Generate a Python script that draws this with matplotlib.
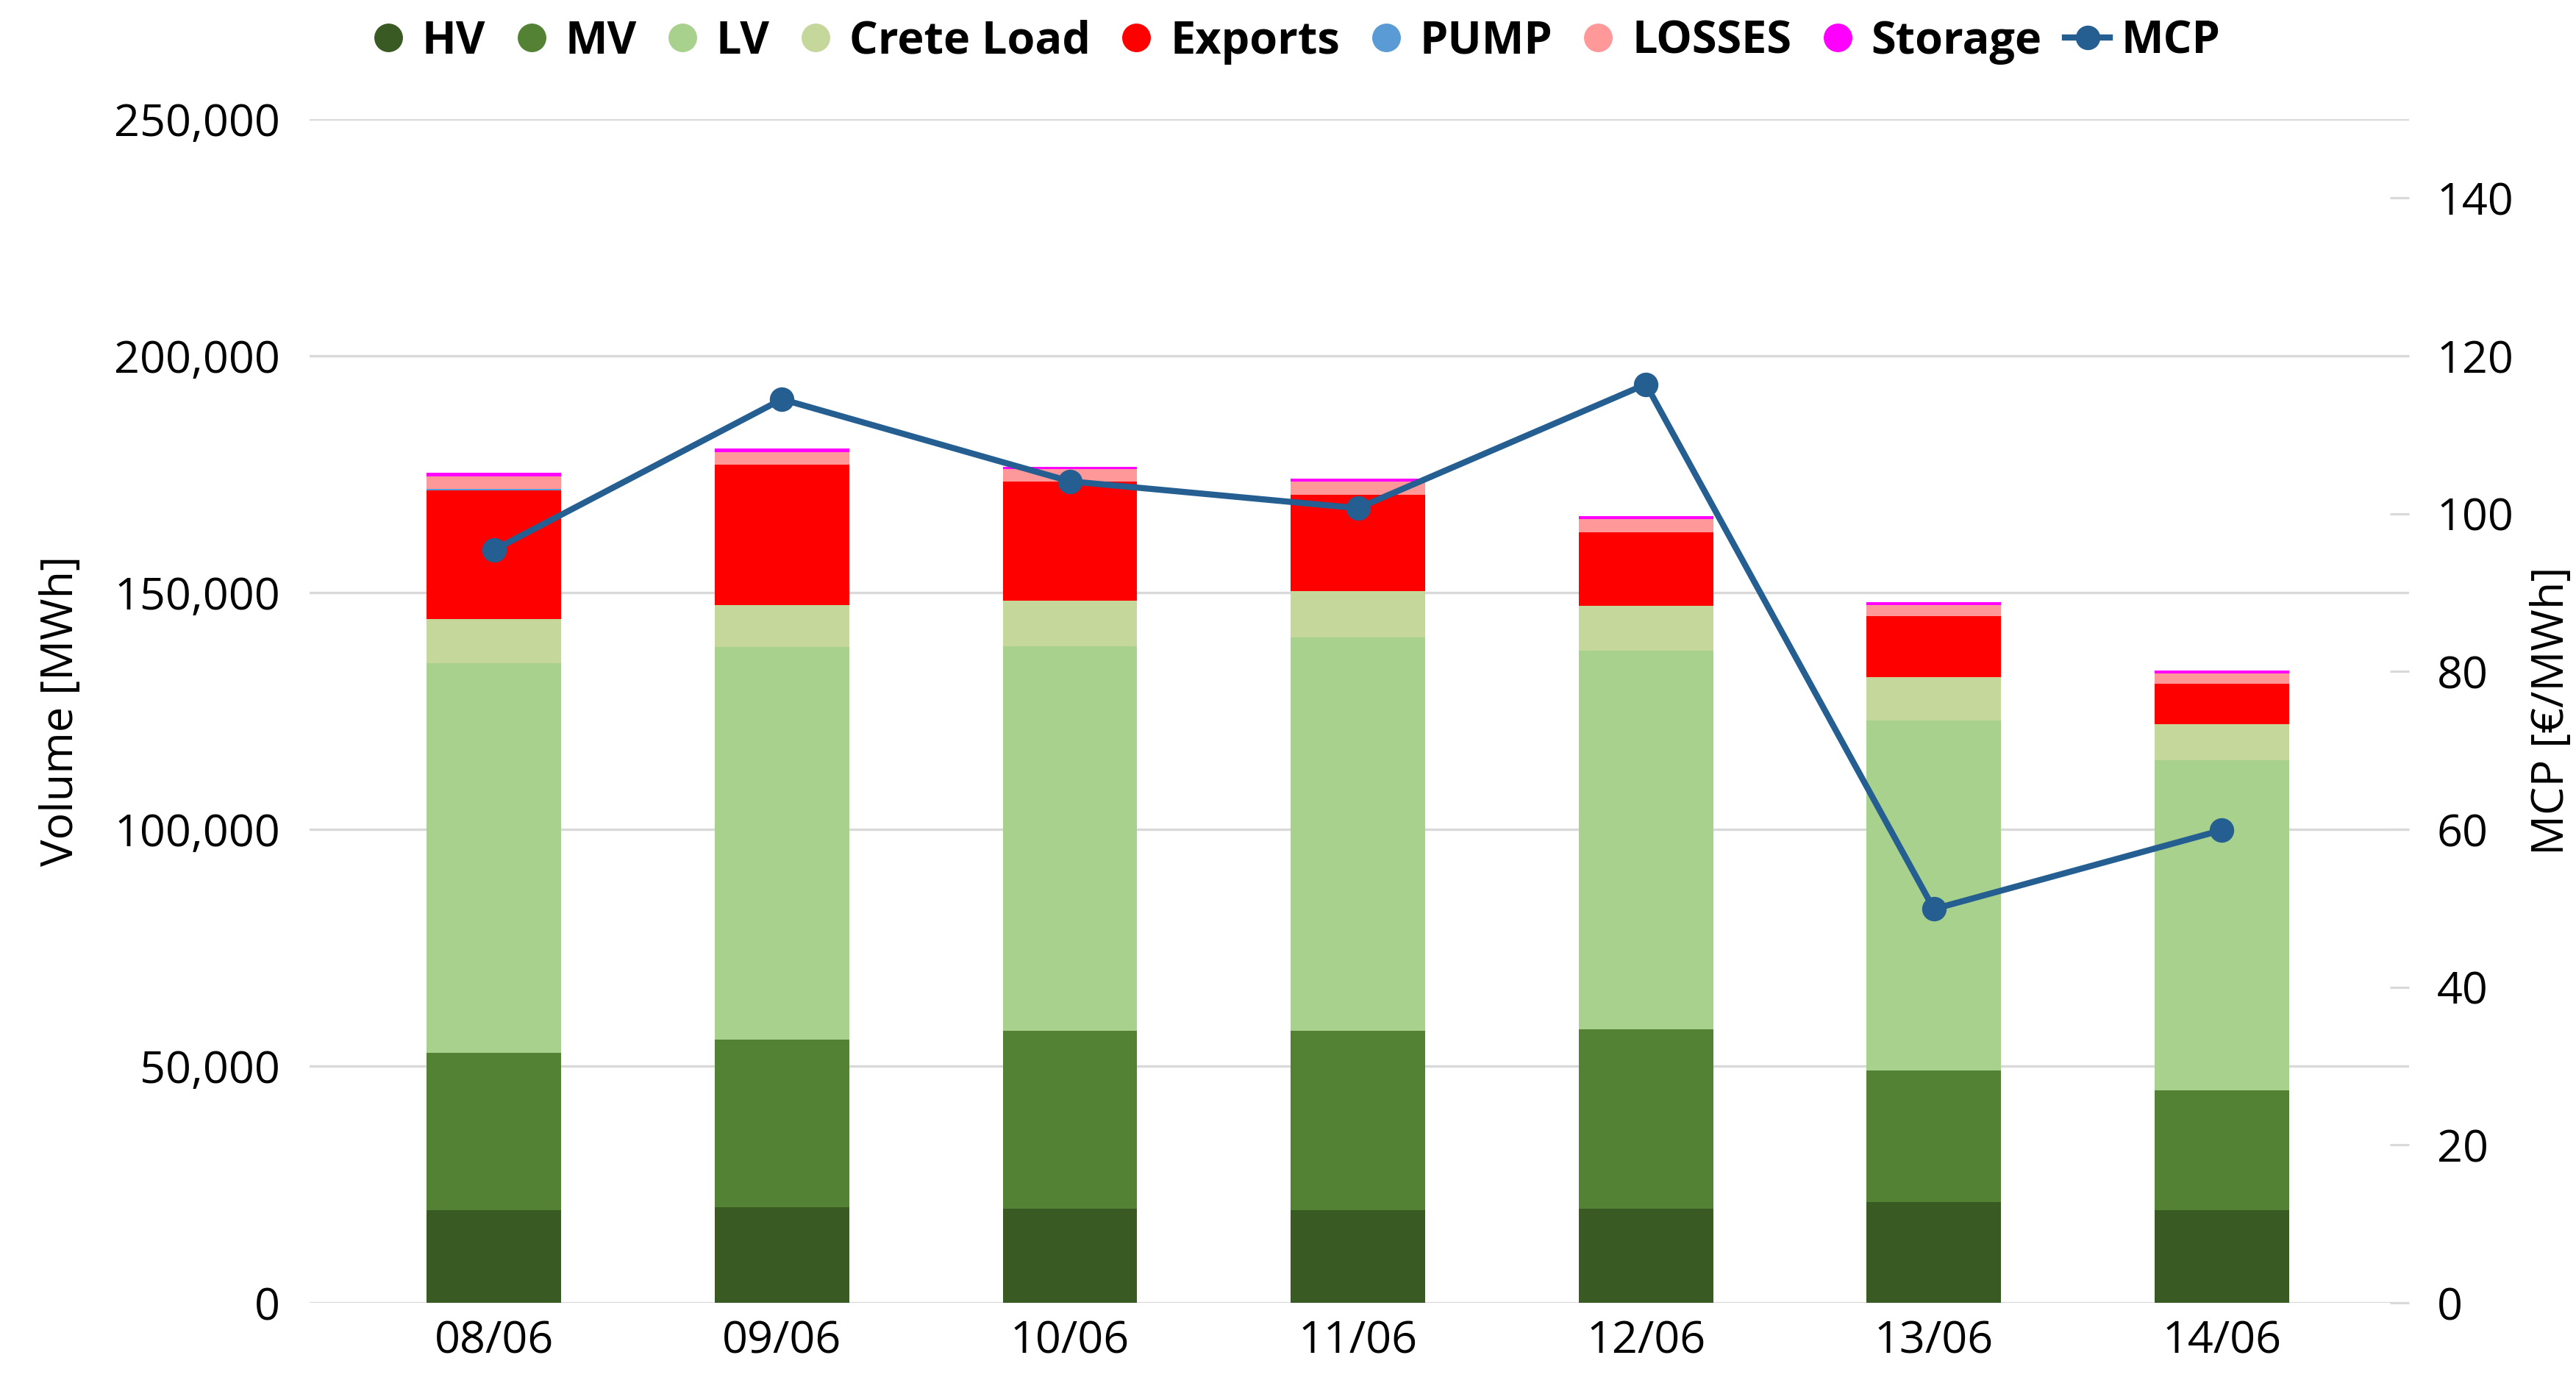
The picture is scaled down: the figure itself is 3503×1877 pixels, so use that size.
import matplotlib
matplotlib.use("Agg")
import matplotlib.pyplot as plt
from matplotlib.lines import Line2D
from matplotlib.ticker import FuncFormatter
import numpy as np

plt.rcParams['font.family'] = ['Open Sans', 'DejaVu Sans']

dates = ["08/06", "09/06", "10/06", "11/06", "12/06", "13/06", "14/06"]
hv = [19500, 20260, 19950, 19640, 19950, 21350, 19640]
mv = [33370, 35410, 37470, 37780, 37780, 27700, 25310]
lv = [82220, 82910, 81320, 83180, 80060, 73900, 69720]
crete = [9250, 8850, 9620, 9730, 9480, 9270, 7610]
exports = [27210, 29570, 25150, 20340, 15530, 12890, 8540]
pump = [420, 0, 0, 0, 0, 0, 0]
losses = [2640, 2640, 2640, 2800, 2790, 2320, 2170]
storage = [730, 780, 450, 620, 620, 620, 620]
mcp = [95.4, 114.5, 104.1, 100.7, 116.4, 49.9, 59.9]

series_names = ["HV", "MV", "LV", "Crete Load", "Exports", "PUMP", "LOSSES", "Storage"]
series_vals = [hv, mv, lv, crete, exports, pump, losses, storage]
colors = ["#3A5A23", "#548235", "#A9D18E", "#C5D79B", "#FF0000", "#5B9BD5", "#FF9999", "#FF00FF"]
mcp_color = "#255E91"

fig = plt.figure(figsize=(35.03, 18.77), dpi=100)
ax = fig.add_axes([0.1202, 0.0559, 0.8150, 0.8578])
ax2 = ax.twinx()

x = np.arange(len(dates))
bottom = np.zeros(len(dates))
for name, vals, c in zip(series_names, series_vals, colors):
    v = np.array(vals, dtype=float)
    ax.bar(x, v, width=0.467, bottom=bottom, color=c, linewidth=0, zorder=2)
    bottom += v

ax2.plot(x, mcp, color=mcp_color, lw=6, marker='o', markersize=23, zorder=5)

ax.set_xlim(-0.64, 6.65)
ax.set_ylim(0, 250000)
ax2.set_ylim(0, 150)
ax.set_yticks(np.arange(0, 250001, 50000))
ax2.set_yticks(np.arange(0, 141, 20))
ax.yaxis.set_major_formatter(FuncFormatter(lambda v, p: f"{int(v):,}"))
ax.set_xticks(x)
ax.set_xticklabels(dates)

ax.grid(axis='y', color='#D9D9D9', lw=2.4, zorder=0)
ax.set_axisbelow(True)
for a in (ax, ax2):
    for s in a.spines.values():
        s.set_visible(False)

ax.tick_params(axis='y', length=0, pad=29, labelsize=44, labelcolor='black')
ax.tick_params(axis='x', length=0, pad=16, labelsize=44, labelcolor='black')
ax2.tick_params(axis='y', direction='in', length=19, width=2.2, color='#D9D9D9',
                pad=27, labelsize=44, labelcolor='black')

fig.text(0.0237, 0.0559 + 0.8578 / 2, "Volume [MWh]", rotation=90,
         ha='center', va='center', fontsize=44)
fig.text(0.9905, 0.0559 + 0.8578 / 2, "MCP [€/MWh]", rotation=90,
         ha='center', va='center', fontsize=44)

handles = [Line2D([], [], ls='none', marker='o', markersize=27, color=c) for c in colors]
handles.append(Line2D([], [], color=mcp_color, lw=6, marker='o', markersize=23))
labels = series_names + ["MCP"]
fig.legend(handles, labels, loc='center', bbox_to_anchor=(0.502, 0.9695), ncol=9,
           frameon=False, handlelength=1.0, handletextpad=0.25, columnspacing=0.52,
           prop={'weight': 'bold', 'size': 44})

fig.savefig("out.png", dpi=100)
